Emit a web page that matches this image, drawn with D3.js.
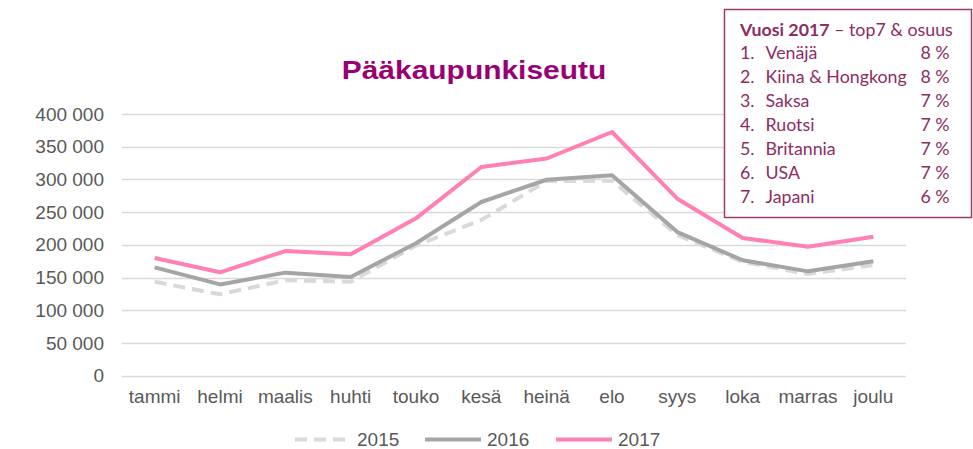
<!DOCTYPE html>
<html>
<head>
<meta charset="utf-8">
<script src="https://cdn.jsdelivr.net/npm/d3@7"></script>
<style>
  body { margin: 0; background: #fff; }
  svg { display: block; }
</style>
</head>
<body>
<div id="canvas"></div>
<script>
"use strict"

// data
let months = ["tammi", "helmi", "maalis", "huhti", "touko", "kesä", "heinä", "elo", "syys", "loka", "marras", "joulu"];
let years = ["2015", "2016", "2017"];
let values2015 = [143500, 124500, 146000, 143500, 199000, 238000, 297500, 298000, 215000, 174000, 155500, 169000];
let values2016 = [165500, 139500, 157500, 151000, 202500, 265500, 299500, 306500, 219500, 176500, 159500, 175000];
let values2017 = [180000, 158000, 190500, 185500, 240500, 319000, 332000, 372500, 270500, 210500, 197000, 212500];
let yTicks = [0, 50000, 100000, 150000, 200000, 250000, 300000, 350000, 400000];

let topTitle = ["Vuosi 2017", " – top7 & osuus"];
let topCountries = ["Venäjä", "Kiina & Hongkong", "Saksa", "Ruotsi", "Britannia", "USA", "Japani"];
let topShares = ["8 %", "8 %", "7 %", "7 %", "7 %", "7 %", "6 %"];

let svgWidth = 973;
let svgHeight = 449;
let margin = { top: 114, right: 67, bottom: 73, left: 122 };

let svg = d3.select("#canvas").append("svg")
    .attr("width", svgWidth)
    .attr("height", svgHeight);

let x = d3.scaleBand()
    .domain(months)
    .range([margin.left, svgWidth - margin.right]);

let y = d3.scaleLinear()
    .domain([0, 400000])
    .range([svgHeight - margin.bottom - 0.3, margin.top]);

// gridlines
svg.append("g")
    .selectAll("line")
    .data(yTicks)
    .join("line")
    .attr("x1", margin.left)
    .attr("x2", svgWidth - margin.right)
    .attr("y1", function(d) { return Math.round(y(d)) + 0.5; })
    .attr("y2", function(d) { return Math.round(y(d)) + 0.5; })
    .attr("stroke", "#d9d9d9")
    .attr("stroke-width", 1.5);

// y axis labels
let fmt = function(d) { return d3.format(",")(d).replace(/,/g, " "); };
let yAxis = svg.append("g")
    .attr("transform", "translate(" + (margin.left - 18) + ",0)")
    .call(d3.axisLeft(y).tickValues(yTicks).tickSize(0).tickPadding(0).tickFormat(fmt));
yAxis.select(".domain").remove();
yAxis.selectAll("text")
    .attr("fill", "#595959")
    .style("font-family", "'Liberation Sans', Arial, sans-serif")
    .style("font-size", "19px");

// x axis labels
let xAxis = svg.append("g")
    .attr("transform", "translate(0," + (svgHeight - margin.bottom + 13) + ")")
    .call(d3.axisBottom(x).tickSize(0).tickPadding(0));
xAxis.select(".domain").remove();
xAxis.selectAll("text")
    .attr("fill", "#595959")
    .style("font-family", "'Liberation Sans', Arial, sans-serif")
    .style("font-size", "19px");

// series
let series = [
    { name: "2015", values: values2015, color: "#d9d9d9", dash: "12,7" },
    { name: "2016", values: values2016, color: "#a5a5a5", dash: null },
    { name: "2017", values: values2017, color: "#ff80b4", dash: null }
];

let line = d3.line()
    .x(function(d, i) { return x(months[i]) + x.bandwidth() / 2; })
    .y(function(d) { return y(d); });

for (let i = 0; i < series.length; i++) {
    svg.append("path")
        .datum(series[i].values)
        .attr("d", line)
        .attr("fill", "none")
        .attr("stroke", series[i].color)
        .attr("stroke-width", 4)
        .attr("stroke-linejoin", "round")
        .attr("stroke-dasharray", series[i].dash);
}

// title (a little wider than plain Arial in the original)
svg.append("text")
    .attr("transform", "translate(474,79) scale(1.13,1)")
    .attr("text-anchor", "middle")
    .attr("fill", "#990073")
    .style("font-family", "'Liberation Sans', Arial, sans-serif")
    .style("font-weight", "bold")
    .style("font-size", "26.5px")
    .text("Pääkaupunkiseutu");

// bottom legend
let legendX = [295, 425, 556];
for (let i = 0; i < series.length; i++) {
    svg.append("line")
        .attr("x1", legendX[i])
        .attr("x2", legendX[i] + 56)
        .attr("y1", 439.5)
        .attr("y2", 439.5)
        .attr("stroke", series[i].color)
        .attr("stroke-width", 4)
        .attr("stroke-dasharray", series[i].dash);
    svg.append("text")
        .attr("x", legendX[i] + 62)
        .attr("y", 446)
        .attr("fill", "#595959")
        .style("font-family", "'Liberation Sans', Arial, sans-serif")
        .style("font-size", "19px")
        .text(years[i]);
}

// top7 box
let boxColor = "#9b3a6c";
let textColor = "#8e2c62";
svg.append("rect")
    .attr("x", 724.5)
    .attr("y", 9.5)
    .attr("width", 247)
    .attr("height", 208)
    .attr("fill", "#fff")
    .attr("stroke", boxColor)
    .attr("stroke-width", 1.5);

let boxFont = "Lato, 'Open Sans', sans-serif";
let boxSize = "17.8px";
let head = svg.append("text")
    .attr("x", 740)
    .attr("y", 35.5)
    .attr("fill", textColor)
    .style("font-family", boxFont)
    .style("font-size", boxSize);
head.append("tspan").style("font-weight", "bold").text(topTitle[0]);
head.append("tspan").text(topTitle[1]);

for (let i = 0; i < topCountries.length; i++) {
    let rowY = 59.4 + i * 23.86;
    svg.append("text")
        .attr("x", 740)
        .attr("y", rowY)
        .attr("fill", textColor)
        .style("font-family", boxFont)
        .style("font-size", boxSize)
        .text((i + 1) + ".");
    svg.append("text")
        .attr("x", 765.5)
        .attr("y", rowY)
        .attr("fill", textColor)
        .style("font-family", boxFont)
        .style("font-size", boxSize)
        .text(topCountries[i]);
    svg.append("text")
        .attr("x", 949.5)
        .attr("y", rowY)
        .attr("text-anchor", "end")
        .attr("fill", textColor)
        .style("font-family", boxFont)
        .style("font-size", boxSize)
        .text(topShares[i]);
}
</script>
</body>
</html>
